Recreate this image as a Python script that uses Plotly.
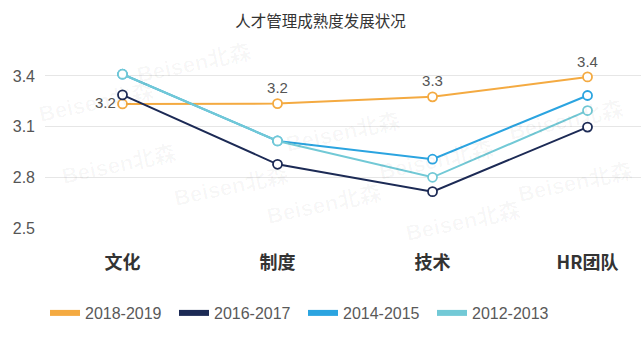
import plotly.graph_objects as go

categories = ["文化", "制度", "技术", "HR团队"]
series_names = ["2018-2019", "2016-2017", "2014-2015", "2012-2013"]
v_2018_2019 = [3.234, 3.236, 3.276, 3.394]
v_2016_2017 = [3.288, 2.877, 2.715, 3.097]
v_2014_2015 = [3.41, 3.015, 2.907, 3.284]
v_2012_2013 = [3.41, 3.015, 2.80, 3.195]
y_ticks = [2.5, 2.8, 3.1, 3.4]
title_text = "人才管理成熟度发展状况"
watermark = "Beisen北森"

colors = ["#F4AA41", "#1C2A55", "#2BA4E0", "#72C9D6"]
values = [v_2018_2019, v_2016_2017, v_2014_2015, v_2012_2013]

fig = go.Figure()
for i, (name, vals) in enumerate(zip(series_names, values)):
    show_text = (i == 0)
    fig.add_trace(go.Scatter(
        x=categories, y=vals, name=name, showlegend=False,
        mode="lines+markers+text" if show_text else "lines+markers",
        line=dict(color=colors[i], width=2),
        marker=dict(symbol="circle", size=9, color="white",
                    line=dict(color=colors[i], width=1.8)),
        texttemplate="%{y:.1f}" if show_text else None,
        textposition=["middle left", "top center", "top center", "top center"] if show_text else None,
        textfont=dict(size=15, color="#555555", family="Liberation Sans, Arial, sans-serif"),
        cliponaxis=False,
    ))
# legend-only entries with thick strokes
for i, name in enumerate(series_names):
    fig.add_trace(go.Scatter(
        x=[None], y=[None], name=name, mode="lines",
        line=dict(color=colors[i], width=6),
    ))

# faint watermark
wm_pos = [(160, 10), (55, 88), (560, 125), (320, 150), (420, 205),
          (80, 215), (200, 258), (570, 250), (300, 295), (450, 330)]
for (px, py) in wm_pos:
    fig.add_annotation(x=px / 641, y=1 - py / 343, xref="paper", yref="paper",
                       yanchor="middle", xanchor="center",
                       text=watermark, showarrow=False, textangle=-12,
                       font=dict(size=22, color="rgba(0,0,0,0.03)",
                                 family="Liberation Sans, Noto Sans CJK SC, sans-serif", weight="bold"))

fig.update_layout(
    width=641, height=343,
    margin=dict(l=45, r=0, t=59, b=115),
    paper_bgcolor="white", plot_bgcolor="white",
    title=dict(text=title_text, x=0.5, xanchor="center", y=1 - 22 / 343, yanchor="middle",
               font=dict(size=15.5, color="#333333", family="Noto Sans CJK SC, sans-serif")),
    xaxis=dict(range=[-0.5, 3.345], showgrid=False, showline=False, zeroline=False,
               ticks="", ticklabelstandoff=22,
               tickfont=dict(size=18, color="#333333", family="Noto Sans CJK SC, sans-serif", weight="bold")),
    yaxis=dict(range=[2.5, 3.5], tickvals=y_ticks, ticktext=[f"{t:.1f}" for t in y_ticks],
               showgrid=True, gridcolor="#E6E6E6", gridwidth=1, zeroline=False, showline=False,
               ticks="", ticklabelstandoff=9,
               tickfont=dict(size=16, color="#555555", family="Liberation Sans, Arial, sans-serif")),
    legend=dict(orientation="h", x=0, xanchor="left", y=(228 - 313) / 169, yanchor="middle",
                entrywidth=84, entrywidthmode="pixels",
                font=dict(size=16, color="#595959", family="Liberation Sans, Arial, sans-serif"),
                bgcolor="rgba(0,0,0,0)"),
    showlegend=True,
)

fig.write_html("out.html")
